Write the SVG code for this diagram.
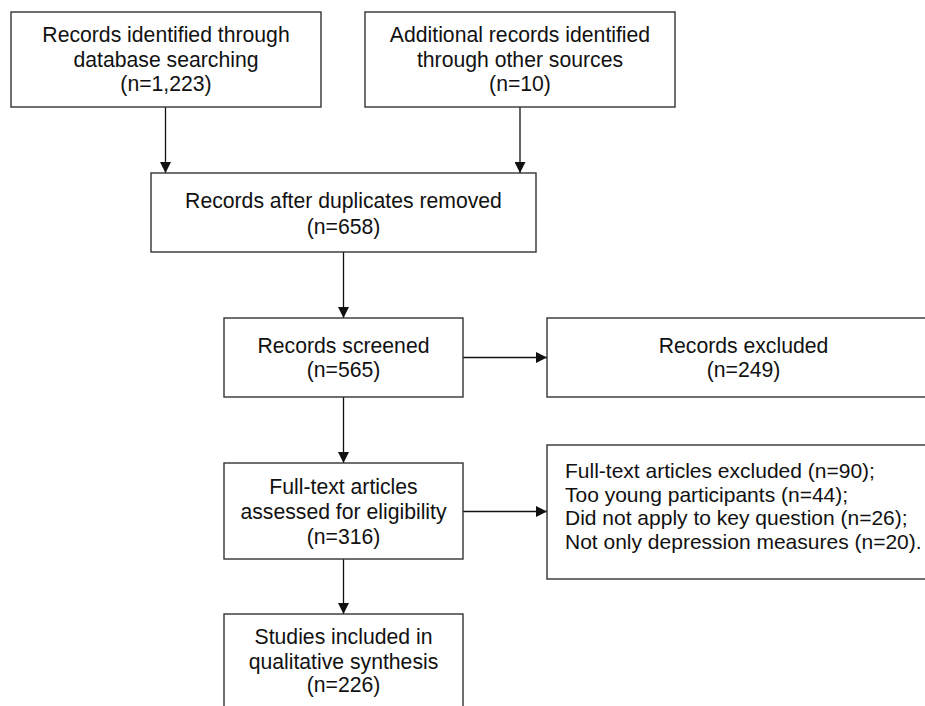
<svg xmlns="http://www.w3.org/2000/svg" width="925" height="706" viewBox="0 0 925 706">
<defs>
<style>
.box{fill:#fff;stroke:#333;stroke-width:1.4}
.t{font-family:"Liberation Sans",Arial,sans-serif;font-size:21.2px;fill:#111;text-anchor:middle}
.tl{font-family:"Liberation Sans",Arial,sans-serif;font-size:21px;fill:#111;text-anchor:start}
.c{stroke:#111;stroke-width:1.3;fill:none;marker-end:url(#ah)}
</style>
<marker id="ah" viewBox="0 0 10 10" refX="10" refY="5" markerWidth="11" markerHeight="11" markerUnits="userSpaceOnUse" orient="auto">
<path d="M0,0 L10,5 L0,10 Z" fill="#111"/>
</marker>
</defs>
<rect width="925" height="706" fill="#fff"/>
<g id="connectors">
<line class="c" x1="165.5" y1="107" x2="165.5" y2="173"/>
<line class="c" x1="520" y1="107" x2="520" y2="173"/>
<line class="c" x1="343.5" y1="252" x2="343.5" y2="318"/>
<line class="c" x1="463" y1="357.5" x2="547" y2="357.5"/>
<line class="c" x1="343.5" y1="397" x2="343.5" y2="463"/>
<line class="c" x1="463" y1="511.5" x2="547" y2="511.5"/>
<line class="c" x1="343.5" y1="559" x2="343.5" y2="614"/>
</g>
<g id="n1">
<rect class="box" x="11" y="12" width="310" height="95"/>
<text class="t" x="166" y="42">Records identified through</text>
<text class="t" x="166" y="66.5">database searching</text>
<text class="t" x="166" y="91">(n=1,223)</text>
</g>
<g id="n2">
<rect class="box" x="365" y="12" width="310" height="95"/>
<text class="t" x="520" y="42">Additional records identified</text>
<text class="t" x="520" y="66.5">through other sources</text>
<text class="t" x="520" y="91">(n=10)</text>
</g>
<g id="n3">
<rect class="box" x="151" y="173" width="385" height="79"/>
<text class="t" x="343.5" y="208">Records after duplicates removed</text>
<text class="t" x="343.5" y="234">(n=658)</text>
</g>
<g id="n4">
<rect class="box" x="224" y="318" width="239" height="79"/>
<text class="t" x="343.5" y="353">Records screened</text>
<text class="t" x="343.5" y="377">(n=565)</text>
</g>
<g id="n5">
<rect class="box" x="547" y="318" width="393" height="79"/>
<text class="t" x="743.5" y="353">Records excluded</text>
<text class="t" x="743.5" y="377">(n=249)</text>
</g>
<g id="n6">
<rect class="box" x="224" y="463" width="239" height="96"/>
<text class="t" x="343.5" y="493.5">Full-text articles</text>
<text class="t" x="343.5" y="518.5">assessed for eligibility</text>
<text class="t" x="343.5" y="543.5">(n=316)</text>
</g>
<g id="n7">
<rect class="box" x="547" y="445" width="393" height="134"/>
<text class="tl" x="565" y="478">Full-text articles excluded (n=90);</text>
<text class="tl" x="565" y="501.5">Too young participants (n=44);</text>
<text class="tl" x="565" y="525">Did not apply to key question (n=26);</text>
<text class="tl" x="565" y="548.5">Not only depression measures (n=20).</text>
</g>
<g id="n8">
<rect class="box" x="224" y="614" width="239" height="100"/>
<text class="t" x="343.5" y="644">Studies included in</text>
<text class="t" x="343.5" y="668.5">qualitative synthesis</text>
<text class="t" x="343.5" y="692">(n=226)</text>
</g>
</svg>
